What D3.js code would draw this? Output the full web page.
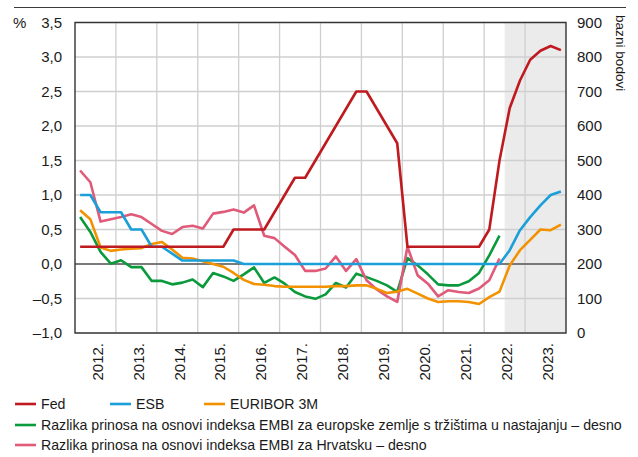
<!DOCTYPE html>
<html>
<head>
<meta charset="utf-8">
<script src="https://cdn.jsdelivr.net/npm/d3@7"></script>
<style>
  body { margin: 0; background: #fff; }
  svg text { font-family: "Liberation Sans", Arial, sans-serif; font-size: 15px; fill: #1a1a1a; }
</style>
</head>
<body>
<svg id="drawing_region"></svg>
<script>
// quarterly data, first point = 2012 Q1
const start_year = 2012;
const years = [2012, 2013, 2014, 2015, 2016, 2017, 2018, 2019, 2020, 2021, 2022, 2023];
const fed = [0.25,0.25,0.25,0.25, 0.25,0.25,0.25,0.25, 0.25,0.25,0.25,0.25, 0.25,0.25,0.25,0.5,
             0.5,0.5,0.5,0.75, 1.0,1.25,1.25,1.5, 1.75,2.0,2.25,2.5, 2.5,2.25,2.0,1.75,
             0.25,0.25,0.25,0.25, 0.25,0.25,0.25,0.25, 0.5,1.5,2.26,2.66, 2.96,3.09,3.16,3.10];
const esb = [1.0,1.0,0.75,0.75, 0.75,0.5,0.5,0.25, 0.25,0.15,0.05,0.05, 0.05,0.05,0.05,0.05,
             0,0,0,0, 0,0,0,0, 0,0,0,0, 0,0,0,0,
             0,0,0,0, 0,0,0,0, 0,0,0.2,0.49, 0.68,0.85,1.0,1.05];
const euribor = [0.78,0.65,0.24,0.19, 0.21,0.22,0.23,0.29, 0.32,0.21,0.09,0.08, 0.04,0.0,-0.04,-0.13,
                 -0.23,-0.29,-0.30,-0.32, -0.33,-0.33,-0.33,-0.33, -0.33,-0.32,-0.32,-0.31, -0.31,-0.36,-0.42,-0.40,
                 -0.36,-0.43,-0.50,-0.55, -0.54,-0.54,-0.55,-0.58, -0.48,-0.40,-0.02,0.20, 0.35,0.50,0.49,0.57];
// basis points, right axis
const embi_europe = [336,293,235,201, 211,191,191,151, 151,141,146,155, 133,174,164,151,
                     170,190,145,161, 143,119,106,99, 112,145,132,172, 162,151,138,119,
                     217,196,170,141, 138,138,150,174, 225,282];
const embi_croatia = [471,437,323,330, 336,344,336,316, 296,287,307,311, 303,346,351,358,
                      349,370,282,275, 250,226,180,180, 187,222,180,214, 153,126,106,90,
                      250,167,143,106, 124,119,116,129, 153,216];
const left_ticks = [-1.0, -0.5, 0, 0.5, 1.0, 1.5, 2.0, 2.5, 3.0, 3.5];
const right_ticks = [0, 100, 200, 300, 400, 500, 600, 700, 800, 900];
const forecast_from = 2022.5;

const series = [
    { name: 'Razlika prinosa na osnovi indeksa EMBI za europske zemlje s tržištima u nastajanju – desno', values: embi_europe, axis: 'right', color: '#0a9a3c' },
    { name: 'Razlika prinosa na osnovi indeksa EMBI za Hrvatsku – desno', values: embi_croatia, axis: 'right', color: '#e05a79' },
    { name: 'EURIBOR 3M', values: euribor, axis: 'left', color: '#f39200' },
    { name: 'ESB', values: esb, axis: 'left', color: '#1b9fd9' },
    { name: 'Fed', values: fed, axis: 'left', color: '#bf1a1f' }
];

const hr = d3.formatLocale({ decimal: ',', thousands: '.', grouping: [3], currency: ['', ''], minus: '\u2013' });

class DualAxisChart {
    constructor( config, series ) {
        this.config = config;
        this.series = series;
        this.init();
    }
    init() {
        let self = this;
        self.svg = d3.select( self.config.parent )
            .attr('width', self.config.width)
            .attr('height', self.config.height);
        self.inner_width = self.config.width - self.config.margin.left - self.config.margin.right;
        self.inner_height = self.config.height - self.config.margin.top - self.config.margin.bottom;
        self.chart = self.svg.append('g')
            .attr('transform', `translate(${self.config.margin.left}, ${self.config.margin.top})`);

        self.xscale = d3.scaleLinear()
            .domain([years[0], years[years.length - 1] + 1])
            .range([0, self.inner_width]);
        self.yleft = d3.scaleLinear()
            .domain([left_ticks[0], left_ticks[left_ticks.length - 1]])
            .range([self.inner_height, 0]);
        self.yright = d3.scaleLinear()
            .domain([right_ticks[0], right_ticks[right_ticks.length - 1]])
            .range([self.inner_height, 0]);
    }
    render() {
        let self = this;

        // top rule
        self.svg.append('line')
            .attr('x1', 14).attr('x2', 626).attr('y1', 7.5).attr('y2', 7.5)
            .attr('stroke', '#3a3a3a').attr('stroke-width', 1.2);

        // forecast shading
        self.chart.append('rect')
            .attr('x', self.xscale(forecast_from))
            .attr('y', 0)
            .attr('width', self.inner_width - self.xscale(forecast_from))
            .attr('height', self.inner_height)
            .attr('fill', '#ebebeb');

        // grid
        self.chart.append('g')
            .selectAll('line')
            .data(left_ticks)
            .join('line')
            .attr('x1', 0).attr('x2', self.inner_width)
            .attr('y1', d => self.yleft(d)).attr('y2', d => self.yleft(d))
            .attr('stroke', '#cfcfcf').attr('stroke-width', 1.3);
        self.chart.append('g')
            .selectAll('line')
            .data(years.slice(1))
            .join('line')
            .attr('x1', d => self.xscale(d)).attr('x2', d => self.xscale(d))
            .attr('y1', 0).attr('y2', self.inner_height)
            .attr('stroke', '#cfcfcf').attr('stroke-width', 1.3);

        // zero line
        self.chart.append('line')
            .attr('x1', 0).attr('x2', self.inner_width)
            .attr('y1', self.yleft(0)).attr('y2', self.yleft(0))
            .attr('stroke', '#1a1a1a').attr('stroke-width', 1.2);

        // axes
        const left_axis = d3.axisLeft( self.yleft )
            .tickValues(left_ticks)
            .tickFormat(hr.format('.1f'))
            .tickSize(0)
            .tickPadding(13);
        const right_axis = d3.axisRight( self.yright )
            .tickValues(right_ticks)
            .tickFormat(d3.format('d'))
            .tickSize(0)
            .tickPadding(11);
        const lg = self.chart.append('g').call(left_axis);
        const rg = self.chart.append('g')
            .attr('transform', `translate(${self.inner_width}, 0)`)
            .call(right_axis);
        [lg, rg].forEach(g => {
            g.select('.domain').remove();
            g.attr('font-size', null).attr('font-family', null);
            g.selectAll('text').attr('fill', null);
        });

        // year labels
        self.chart.append('g')
            .selectAll('text')
            .data(years)
            .join('text')
            .attr('transform', d => `translate(${self.xscale(d + 0.5) + 2}, ${self.inner_height + 10}) rotate(-90)`)
            .attr('text-anchor', 'end')
            .attr('dy', '0.35em')
            .text(d => d + '.');

        // lines
        const qx = (d, i) => self.xscale(start_year + (i + 0.5) / 4);
        self.series.forEach(s => {
            const y = s.axis === 'left' ? self.yleft : self.yright;
            const line = d3.line()
                .x( (d, i) => qx(d, i) )
                .y( d => y(d) );
            self.chart.append('path')
                .attr('d', line(s.values))
                .attr('fill', 'none')
                .attr('stroke', s.color)
                .attr('stroke-width', 2.6)
                .attr('stroke-linejoin', 'round');
        });

        // frame
        self.chart.append('rect')
            .attr('width', self.inner_width)
            .attr('height', self.inner_height)
            .attr('fill', 'none')
            .attr('stroke', '#333').attr('stroke-width', 1.4);

        // unit labels
        self.svg.append('text')
            .attr('x', 13).attr('y', 28)
            .text('%');
        self.svg.append('text')
            .attr('transform', 'translate(616, 15) rotate(90)')
            .style('font-size', '13.6px')
            .text('bazni bodovi');

        // legend
        const by_name = n => self.series.find(s => s.name.startsWith(n));
        const legend_items = [
            { s: by_name('Fed'), x: 15, y: 404 },
            { s: by_name('ESB'), x: 110, y: 404 },
            { s: by_name('EURIBOR'), x: 204, y: 404 },
            { s: self.series[0], x: 15, y: 425 },
            { s: self.series[1], x: 15, y: 445 }
        ];
        const lgd = self.svg.append('g')
            .selectAll('g')
            .data(legend_items)
            .join('g')
            .attr('transform', d => `translate(${d.x}, ${d.y})`);
        lgd.append('line')
            .attr('x1', 0).attr('x2', 21)
            .attr('stroke', d => d.s.color).attr('stroke-width', 2.6);
        const legend_text = lgd.append('text')
            .attr('x', 26).attr('dy', '0.35em')
            .text(d => d.s.name);
        // size the legend so the longest entry ends where the top rule ends
        const longest = legend_text.filter((d, i) => i === 3).node().getComputedTextLength();
        legend_text.style('font-size', Math.min(15, 15 * 581 / longest).toFixed(2) + 'px');
    }
}

const chart = new DualAxisChart({
    parent: '#drawing_region',
    width: 638,
    height: 457,
    margin: { top: 22.5, right: 72, bottom: 124, left: 75 }
}, series);
chart.render();
</script>
</body>
</html>
